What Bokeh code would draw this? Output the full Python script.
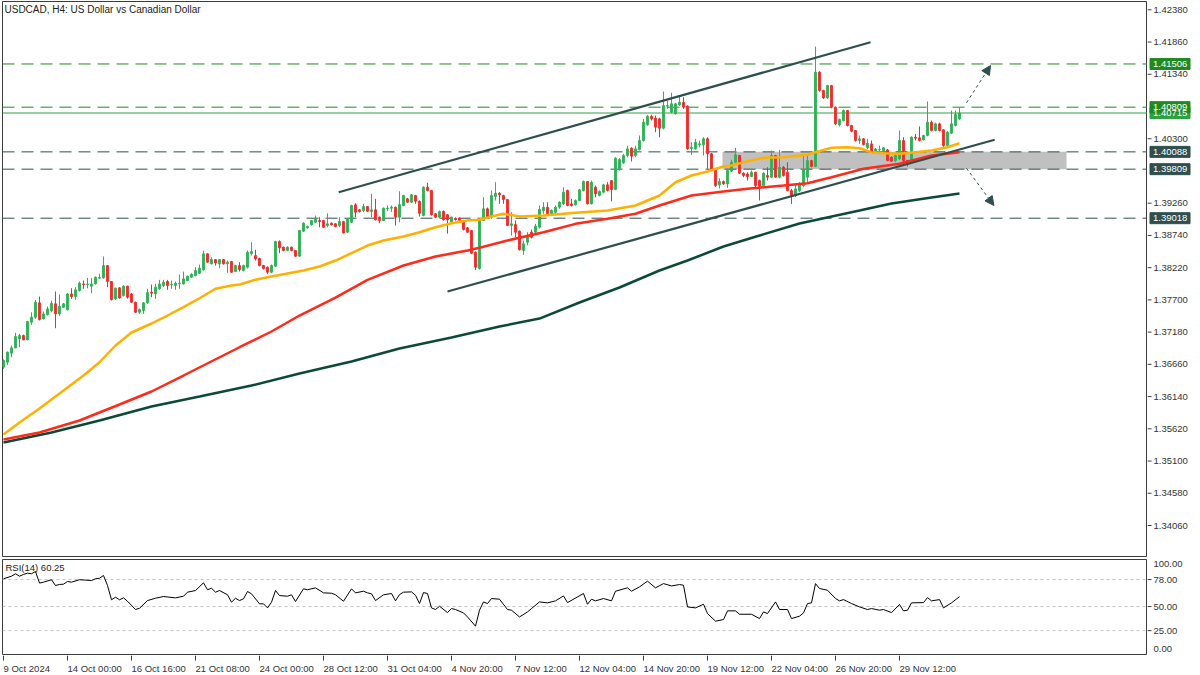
from bokeh.plotting import figure
from bokeh.layouts import column, row
from bokeh.models import (Range1d, Span, Label, Arrow, NormalHead,
                          BoxAnnotation, ColumnDataSource)
from bokeh.core.properties import value
from bokeh.embed import file_html
from bokeh.resources import INLINE

# ---------------- data (USDCAD H4) ----------------
open_ = [
 1.36614,1.36695,1.36840,1.36926,1.37071,1.37125,1.37055,1.37340,1.37420,1.37652,
 1.37394,1.37463,1.37528,1.37636,1.37474,1.37582,1.37539,1.37797,1.37754,1.37851,
 1.37958,1.37948,1.37921,1.37958,1.38050,1.38055,1.38254,1.37996,1.37716,1.37894,
 1.37770,1.37921,1.37797,1.37662,1.37501,1.37528,1.37652,1.37824,1.37797,1.37878,
 1.37932,1.37996,1.37940,1.37932,1.37958,1.37958,1.38012,1.38066,1.38093,1.38130,
 1.38184,1.38443,1.38281,1.38351,1.38281,1.38351,1.38281,1.38319,1.38157,1.38254,
 1.38174,1.38227,1.38448,1.38416,1.38367,1.38255,1.38227,1.38146,1.38243,1.38642,
 1.38550,1.38497,1.38550,1.38497,1.38405,1.38808,1.38863,1.38911,1.38953,1.38981,
 1.38981,1.38900,1.38937,1.38927,1.38900,1.38964,1.38792,1.38953,1.39234,1.39153,
 1.39142,1.39206,1.39126,1.39153,1.39034,1.38981,1.39169,1.39179,1.39195,1.39034,
 1.39223,1.39331,1.39276,1.39384,1.39292,1.39061,1.39518,1.39465,1.39089,1.39034,
 1.39131,1.39073,1.38953,1.39018,1.39018,1.38981,1.38863,1.38819,1.38469,1.38206,
 1.38981,1.39169,1.39034,1.39368,1.39421,1.39384,1.39319,1.38900,1.38916,1.38808,
 1.38497,1.38630,1.38792,1.38792,1.38872,1.39142,1.39195,1.39089,1.39114,1.39195,
 1.39250,1.39465,1.39250,1.39234,1.39303,1.39465,1.39610,1.39250,1.39518,1.39384,
 1.39437,1.39556,1.39626,1.39481,1.39815,1.39911,1.40029,1.40147,1.40029,1.40126,
 1.40271,1.40525,1.40663,1.40631,1.40621,1.40470,1.40825,1.40728,1.40702,1.40847,
 1.40889,1.40825,1.40137,1.40137,1.40202,1.40202,1.40299,1.40057,1.39815,1.39556,
 1.39610,1.39572,1.39776,1.39921,1.40029,1.39744,1.39733,1.39690,1.39760,1.39626,
 1.39545,1.39706,1.39680,1.40029,1.39680,1.39840,1.39760,1.39464,1.39384,1.39464,
 1.39545,1.39680,1.39948,1.39851,1.41374,1.41078,1.40960,1.41159,1.40809,1.40524,
 1.40594,1.40755,1.40513,1.40432,1.40271,1.40298,1.40153,1.40217,1.40082,1.40120,
 1.40082,1.40120,1.40002,1.39948,1.39975,1.40271,1.39948,1.39921,1.40325,1.40315,
 1.40282,1.40352,1.40567,1.40432,1.40540,1.40443,1.40190,1.40389,1.40513,1.40620]

high_ = [
 1.36740,1.36867,1.36964,1.37168,1.37152,1.37140,1.37360,1.37501,1.37700,1.37754,
 1.37512,1.37593,1.37689,1.37835,1.37786,1.37650,1.37810,1.37888,1.37905,1.37996,
 1.38012,1.38055,1.38050,1.38075,1.38120,1.38400,1.38260,1.38000,1.37900,1.37905,
 1.37935,1.37930,1.37810,1.37670,1.37560,1.37662,1.37878,1.37948,1.37958,1.38023,
 1.38023,1.38023,1.38012,1.37996,1.38109,1.38157,1.38090,1.38130,1.38227,1.38270,
 1.38496,1.38450,1.38389,1.38355,1.38355,1.38360,1.38335,1.38330,1.38265,1.38308,
 1.38270,1.38497,1.38630,1.38510,1.38380,1.38265,1.38240,1.38270,1.38655,1.38660,
 1.38560,1.38565,1.38560,1.38505,1.38830,1.38950,1.38900,1.38990,1.39060,1.39034,
 1.38990,1.39096,1.38950,1.38940,1.39034,1.38975,1.39020,1.39235,1.39260,1.39165,
 1.39250,1.39215,1.39411,1.39330,1.39045,1.39190,1.39223,1.39223,1.39205,1.39453,
 1.39395,1.39345,1.39405,1.39395,1.39300,1.39530,1.39589,1.39475,1.39100,1.39140,
 1.39140,1.39085,1.39045,1.39030,1.39030,1.38990,1.38875,1.38830,1.38480,1.38990,
 1.39356,1.39190,1.39465,1.39598,1.39437,1.39395,1.39330,1.39114,1.38981,1.38820,
 1.38658,1.38792,1.38835,1.38927,1.39223,1.39276,1.39276,1.39160,1.39223,1.39290,
 1.39518,1.39480,1.39331,1.39320,1.39490,1.39626,1.39620,1.39626,1.39545,1.39465,
 1.39572,1.39598,1.39630,1.40000,1.39986,1.40057,1.40190,1.40163,1.40190,1.40352,
 1.40621,1.40680,1.40686,1.40675,1.40640,1.41062,1.40917,1.41040,1.40880,1.40997,
 1.40970,1.40840,1.40244,1.40299,1.40271,1.40324,1.40324,1.40070,1.39830,1.39660,
 1.39626,1.39814,1.39960,1.40153,1.40040,1.39760,1.39760,1.39787,1.39765,1.39640,
 1.39760,1.39840,1.40109,1.40040,1.40120,1.39860,1.39921,1.39491,1.39572,1.39599,
 1.40055,1.40055,1.39960,1.41788,1.41390,1.41090,1.41170,1.41170,1.40820,1.40625,
 1.40770,1.40765,1.40525,1.40440,1.40352,1.40310,1.40298,1.40271,1.40150,1.40190,
 1.40165,1.40136,1.40015,1.40040,1.40432,1.40325,1.39960,1.40340,1.40378,1.40497,
 1.40365,1.40901,1.40594,1.40560,1.40560,1.40455,1.40420,1.40755,1.40755,1.40809]

low_ = [
 1.36587,1.36652,1.36775,1.36921,1.36937,1.37050,1.37050,1.37297,1.37394,1.37367,
 1.37383,1.37447,1.37501,1.37243,1.37437,1.37570,1.37530,1.37716,1.37700,1.37835,
 1.37878,1.37888,1.37808,1.37950,1.38039,1.38039,1.37905,1.37690,1.37700,1.37720,
 1.37755,1.37720,1.37650,1.37490,1.37474,1.37474,1.37636,1.37743,1.37716,1.37862,
 1.37905,1.37862,1.37878,1.37862,1.37878,1.37948,1.38000,1.38050,1.38077,1.38120,
 1.38173,1.38300,1.38275,1.38254,1.38211,1.38270,1.38136,1.38140,1.38150,1.38157,
 1.38160,1.38206,1.38416,1.38335,1.38240,1.38190,1.38120,1.38130,1.38230,1.38453,
 1.38485,1.38485,1.38485,1.38395,1.38395,1.38795,1.38850,1.38900,1.38937,1.38872,
 1.38860,1.38872,1.38900,1.38870,1.38872,1.38770,1.38780,1.38940,1.39034,1.39110,
 1.39115,1.39120,1.39034,1.38981,1.38937,1.38970,1.39131,1.39120,1.38900,1.38953,
 1.39210,1.39265,1.39265,1.39250,1.39045,1.39050,1.39450,1.39060,1.39020,1.39020,
 1.38980,1.38770,1.38940,1.38980,1.38970,1.38820,1.38780,1.38440,1.38180,1.38190,
 1.38970,1.39008,1.39008,1.39303,1.39250,1.39250,1.38890,1.38738,1.38711,1.38497,
 1.38427,1.38580,1.38690,1.38765,1.38850,1.39089,1.39061,1.39060,1.39089,1.39169,
 1.39234,1.39210,1.39205,1.39220,1.39290,1.39450,1.39240,1.39240,1.39356,1.39370,
 1.39420,1.39450,1.39290,1.39470,1.39787,1.39895,1.40000,1.39933,1.40003,1.40110,
 1.40255,1.40510,1.40594,1.40405,1.40324,1.40450,1.40782,1.40710,1.40690,1.40830,
 1.40782,1.40120,1.40040,1.40126,1.40163,1.40029,1.39815,1.39800,1.39518,1.39497,
 1.39556,1.39507,1.39760,1.39905,1.39730,1.39680,1.39626,1.39680,1.39518,1.39303,
 1.39530,1.39626,1.39670,1.39670,1.39660,1.39690,1.39450,1.39249,1.39357,1.39438,
 1.39518,1.39600,1.39840,1.39840,1.41060,1.40940,1.40940,1.40790,1.40520,1.40497,
 1.40580,1.40497,1.40405,1.40255,1.40217,1.40190,1.40136,1.40075,1.40070,1.40055,
 1.40070,1.39937,1.39925,1.39921,1.39960,1.39894,1.39851,1.39905,1.40271,1.40255,
 1.40270,1.40340,1.40420,1.40420,1.40420,1.40150,1.40175,1.40375,1.40500,1.40605]

close_ = [
 1.36722,1.36856,1.36926,1.37109,1.37125,1.37055,1.37351,1.37420,1.37662,1.37383,
 1.37474,1.37555,1.37646,1.37474,1.37598,1.37636,1.37797,1.37754,1.37862,1.37969,
 1.37948,1.37958,1.37958,1.38066,1.38060,1.38254,1.37996,1.37705,1.37888,1.37732,
 1.37921,1.37743,1.37662,1.37501,1.37544,1.37652,1.37818,1.37808,1.37905,1.37958,
 1.37985,1.37932,1.37948,1.37969,1.37969,1.38039,1.38082,1.38114,1.38173,1.38211,
 1.38443,1.38308,1.38351,1.38297,1.38351,1.38281,1.38308,1.38146,1.38254,1.38190,
 1.38255,1.38469,1.38480,1.38363,1.38255,1.38206,1.38146,1.38255,1.38642,1.38540,
 1.38497,1.38550,1.38497,1.38405,1.38819,1.38937,1.38884,1.38981,1.39008,1.38964,
 1.38872,1.38927,1.38911,1.38884,1.38964,1.38782,1.39008,1.39223,1.39115,1.39126,
 1.39206,1.39131,1.39153,1.38992,1.38981,1.39179,1.39179,1.39195,1.39034,1.39239,
 1.39384,1.39276,1.39395,1.39292,1.39098,1.39518,1.39465,1.39073,1.39034,1.39126,
 1.38992,1.38992,1.39034,1.38992,1.38981,1.38835,1.38792,1.38453,1.38227,1.38981,
 1.39169,1.39034,1.39384,1.39421,1.39395,1.39319,1.38900,1.38927,1.38792,1.38508,
 1.38604,1.38738,1.38711,1.38889,1.39158,1.39195,1.39089,1.39142,1.39195,1.39276,
 1.39437,1.39223,1.39223,1.39303,1.39476,1.39610,1.39250,1.39598,1.39411,1.39449,
 1.39556,1.39465,1.39481,1.39986,1.39965,1.40029,1.40137,1.40018,1.40137,1.40271,
 1.40566,1.40663,1.40621,1.40486,1.40470,1.40836,1.40836,1.40863,1.40863,1.40889,
 1.40809,1.40137,1.40163,1.40244,1.40218,1.40299,1.40057,1.39815,1.39545,1.39610,
 1.39572,1.39787,1.39921,1.40040,1.39744,1.39706,1.39690,1.39760,1.39545,1.39535,
 1.39744,1.39680,1.40029,1.39680,1.39840,1.39706,1.39464,1.39384,1.39491,1.39572,
 1.39798,1.39948,1.39851,1.41374,1.41078,1.40960,1.41159,1.40809,1.40540,1.40610,
 1.40755,1.40513,1.40422,1.40271,1.40298,1.40207,1.40228,1.40082,1.40136,1.40125,
 1.40153,1.39948,1.39937,1.40029,1.40271,1.39948,1.39894,1.40325,1.40309,1.40271,
 1.40352,1.40567,1.40432,1.40540,1.40432,1.40190,1.40405,1.40540,1.40691,1.40715]

# moving averages (sampled at bar index)
ma_fast_bar = [0,4,9,14,20,24,28,32,37,41,45,49,53,57,59,63,66,75,79,83,87,91,95,100,104,108,
               112,116,119,122,125,129,135,143,151,158,164,168,172,176,180,182,186,190,195,201,
               203,207,211,214,217,220,224,228,232,236,239]
ma_fast = [1.35528,1.35721,1.35947,1.36189,1.36480,1.36694,1.36964,1.37174,1.37319,1.37448,
           1.37582,1.37727,1.37879,1.37932,1.37948,1.38024,1.38066,1.38174,1.38238,1.38335,
           1.38453,1.38577,1.38658,1.38722,1.38792,1.38872,1.38937,1.38981,1.38992,1.39045,
           1.39089,1.39045,1.39061,1.39105,1.39142,1.39223,1.39384,1.39598,1.39707,1.39771,
           1.39852,1.39868,1.39937,1.39992,1.40002,1.40041,1.40083,1.40154,1.40163,1.40147,
           1.40083,1.40066,1.40057,1.40083,1.40110,1.40163,1.40228]
ma_mid_bar = [0,9,19,29,37,45,59,67,74,83,91,100,108,116,119,126,135,143,151,158,164,168,172,
              180,186,195,201,207,215,224,232,239]
ma_mid = [1.35447,1.35560,1.35754,1.36012,1.36222,1.36480,1.36936,1.37190,1.37448,1.37738,
          1.38024,1.38255,1.38400,1.38497,1.38540,1.38658,1.38792,1.38927,1.39008,1.39089,
          1.39223,1.39303,1.39384,1.39449,1.39492,1.39545,1.39582,1.39679,1.39815,1.39895,
          1.40029,1.40083]
ma_slow_bar = [0,12,24,37,49,62,74,87,99,112,124,134,144,154,164,171,180,189,199,214,222,232,239]
ma_slow = [1.35399,1.35560,1.35754,1.35980,1.36141,1.36318,1.36512,1.36706,1.36915,1.37093,
           1.37270,1.37399,1.37658,1.37900,1.38174,1.38335,1.38561,1.38738,1.38932,1.39142,
           1.39255,1.39352,1.39416]

# RSI(14)
rsi_bar = [0,2,3,4,5,6,7,8,9,10,12,13,14,15,16,17,19,22,23,24,25,26,27,28,29,30,31,33,34,36,
           38,40,43,45,46,48,50,51,52,53,54,56,57,58,59,60,61,62,64,65,66,67,68,69,71,72,73,
           75,76,78,80,82,83,85,87,88,90,91,92,93,95,97,98,99,100,102,103,104,105,106,107,108,
           109,111,112,113,115,116,118,119,120,121,122,124,126,127,129,131,132,134,136,138,140,
           141,145,146,147,148,150,152,153,156,157,159,161,163,165,167,169,170,171,173,175,176,
           178,180,181,183,184,187,189,190,191,193,194,196,197,199,200,201,202,203,204,206,208,
           209,210,212,214,216,217,219,220,222,224,225,226,227,230,231,232,234,235,237,239]
rsi_val = [78.8,81.5,84,81.5,83.3,84.6,84,86.4,74.3,75.3,77.8,71.8,72.9,73.2,76,75.3,77.8,77,
           78.8,79.4,82.2,71.8,57,59.7,57,59,55.5,46.9,48.2,56.2,58.6,60.4,59,60.7,64.9,66.6,
           74.6,67.4,69,64.9,66.6,62.2,54.5,58.6,56.2,58,65.6,63.2,52.8,52.8,48.6,54.5,66.6,
           61.4,60.7,62.2,55.2,68.4,67.4,69.4,64.2,63.8,62.2,55.5,68.4,64.2,65.9,64.2,63.2,
           56.2,62.2,63.5,55.9,62.4,64.9,65.2,61.7,53.1,64.5,63.5,48.6,46.9,50.3,43.7,47.9,
           46.9,43.4,39.2,29.6,46.2,54.8,53.1,58.3,57.6,46.9,46.2,39.2,44.4,47.9,54.8,53.8,
           55.9,61,54.1,63.5,52.4,57.6,55.9,58.3,55.9,65.9,69.4,65.9,70.4,76.3,69.4,73.8,71.4,
           72.8,72.1,49.6,48.6,52.4,42.7,34.8,36.5,45.5,45.5,42,42,37.5,44.4,42.7,54.8,46.9,
           46.9,37.5,40,43.4,53.1,53.8,73.8,68.7,66.9,58.3,55.9,57.2,53.1,49.6,46.9,47.9,46.2,
           46.9,43.7,52.1,45.5,46.2,53.8,54.1,59.3,55.9,57.2,48.6,53.8,60.25]
rsi_levels = [78, 50, 25]
rsi_scale_labels = [100, 78, 50, 25, 0]
rsi_last = "60.25"

# horizontal levels and tags
level_green = [1.41506, 1.40809]
level_dark = [1.40088, 1.39809, 1.39018]
bid_price = 1.40715
zone_top, zone_bottom = 1.40088, 1.39809
zone_from_bar, zone_to_bar = 179.75, 265.75

# channel trendlines: (bar, price) endpoints
channel_upper_bar = [83.8, 216.75]
channel_upper = [1.39437, 1.41857]
channel_lower_bar = [111.0, 247.8]
channel_lower = [1.37835, 1.40283]
arrow_up = (240.75, 1.40880, 246.75, 1.41481)
arrow_down = (240.75, 1.39824, 247.6, 1.39223)

price_ticks = [1.42380, 1.41860, 1.41340, 1.40300, 1.39260, 1.38740, 1.38220, 1.37700,
               1.37180, 1.36660, 1.36140, 1.35620, 1.35100, 1.34580, 1.34060]
time_tick_bars = [0, 16, 32, 48, 64, 80, 96, 112, 128, 144, 160, 176, 192, 208, 224]
time_labels = ["9 Oct 2024", "14 Oct 00:00", "16 Oct 16:00", "21 Oct 08:00", "24 Oct 00:00",
               "28 Oct 12:00", "31 Oct 04:00", "4 Nov 20:00", "7 Nov 12:00", "12 Nov 04:00",
               "14 Nov 20:00", "19 Nov 12:00", "22 Nov 04:00", "26 Nov 20:00", "29 Nov 12:00"]

# ---------------- styling ----------------
UP = "#31b158"
DOWN = "#f42a2a"
FRAME = "#3c3c3c"
DARK = "#2f4f4f"
GREEN_LVL = "#1f8a1f"
BID = "#2fa043"
FONT = "Liberation Sans"
FS = "9.5px"
TXT = "#333333"

X_START, X_END = -0.25, 286.0
PLOT_W, AX_W = 1147, 53
MAIN_H, RSI_H, XLAB_H = 557, 98, 20


def bare(fig):
    fig.grid.visible = False
    fig.background_fill_color = "white"
    fig.border_fill_color = "white"
    return fig


main = bare(figure(width=PLOT_W, height=MAIN_H, x_range=Range1d(X_START, X_END),
                   y_range=Range1d(1.33560, 1.42514), output_backend="svg",
                   toolbar_location=None, y_axis_location=None, x_axis_location=None,
                   min_border_left=2, min_border_right=0, min_border_top=1, min_border_bottom=1))
main.outline_line_color = FRAME

# zone and levels
main.add_layout(BoxAnnotation(left=zone_from_bar, right=zone_to_bar, top=zone_top,
                              bottom=zone_bottom, fill_color="#c0c0c0", fill_alpha=1.0,
                              line_alpha=0, level="underlay"))
for lv in level_green:
    main.add_layout(Span(location=lv, dimension="width", line_color=GREEN_LVL,
                         line_dash="12 7", line_width=1, level="underlay"))
for lv in level_dark:
    main.add_layout(Span(location=lv, dimension="width", line_color=DARK,
                         line_dash="12 7", line_width=1, level="underlay"))
main.add_layout(Span(location=bid_price, dimension="width", line_color=BID,
                     line_width=1, level="underlay"))

# candles
n = len(close_)
idx = list(range(n))
cols = [UP if c >= o else DOWN for o, c in zip(open_, close_)]
src = ColumnDataSource(dict(x=idx, h=high_, l=low_,
                            top=[max(o, c) for o, c in zip(open_, close_)],
                            bot=[min(o, c) for o, c in zip(open_, close_)], col=cols))
main.segment(x0="x", y0="l", x1="x", y1="h", line_color="col", line_width=1, source=src)
main.vbar(x="x", width=0.45, top="top", bottom="bot", fill_color="col", line_color="col",
          line_width=1, source=src)

# moving averages
main.line(ma_slow_bar, ma_slow, line_color="#0c4a38", line_width=2.5)
main.line(ma_mid_bar, ma_mid, line_color="#ff2a1a", line_width=2.5)
main.line(ma_fast_bar, ma_fast, line_color="#ffb000", line_width=2.5)

# channel
main.line(channel_upper_bar, channel_upper, line_color=DARK, line_width=2.2)
main.line(channel_lower_bar, channel_lower, line_color=DARK, line_width=2.2)

for (xs, ys, xe, ye) in (arrow_up, arrow_down):
    main.add_layout(Arrow(x_start=xs, y_start=ys, x_end=xe, y_end=ye, line_color=DARK,
                          line_width=1, line_dash="3 3",
                          end=NormalHead(size=9, fill_color=DARK, line_color=DARK)))

main.add_layout(Label(x=0.25, y=1.42385, text="USDCAD, H4:  US Dollar vs Canadian Dollar",
                      text_font=FONT, text_font_size="10px", text_color="#222222",
                      text_baseline="middle", text_align="left"))

# ---------------- price scale (right) ----------------
pax = bare(figure(width=AX_W, height=MAIN_H, x_range=Range1d(0, AX_W), y_range=main.y_range,
                  output_backend="svg", toolbar_location=None, y_axis_location=None,
                  x_axis_location=None, min_border_left=0, min_border_right=0,
                  min_border_top=1, min_border_bottom=1))
pax.outline_line_color = None
pax.segment(x0=[0] * len(price_ticks), y0=price_ticks, x1=[4] * len(price_ticks),
            y1=price_ticks, line_color=FRAME, line_width=1)
pax.text(x=[6] * len(price_ticks), y=price_ticks, text=[f"{t:.5f}" for t in price_ticks],
         text_font=value(FONT), text_font_size=FS, text_color=TXT,
         text_baseline="middle", text_align="left")

tag_prices = [bid_price, level_green[0], level_green[1]] + level_dark
tag_colors = [BID, GREEN_LVL, GREEN_LVL, DARK, DARK, DARK]
pax.rect(x=[22.5] * len(tag_prices), y=tag_prices, width=40, height=11,
         width_units="screen", height_units="screen", fill_color=tag_colors,
         line_color=tag_colors)
pax.text(x=[5.5] * len(tag_prices), y=tag_prices, text=[f"{t:.5f}" for t in tag_prices],
         text_font=value(FONT), text_font_size=FS, text_color="white",
         text_baseline="middle", text_align="left")

# ---------------- RSI panel ----------------
rsi = bare(figure(width=PLOT_W, height=RSI_H, x_range=main.x_range, y_range=Range1d(-0.8, 98.8),
                  output_backend="svg", toolbar_location=None, y_axis_location=None,
                  x_axis_location=None, min_border_left=2, min_border_right=0,
                  min_border_top=2, min_border_bottom=0))
rsi.outline_line_color = FRAME
for lv in rsi_levels:
    rsi.add_layout(Span(location=lv, dimension="width", line_color="#c4c4c4",
                        line_dash="3 3", line_width=1, level="underlay"))
rsi.line(rsi_bar, rsi_val, line_color="black", line_width=1)
rsi.add_layout(Label(x=0.5, y=90.6, text=f"RSI(14) {rsi_last}", text_font=FONT,
                     text_font_size=FS, text_color="#222222", text_baseline="middle",
                     text_align="left"))

rax = bare(figure(width=AX_W, height=RSI_H, x_range=Range1d(0, AX_W), y_range=rsi.y_range,
                  output_backend="svg", toolbar_location=None, y_axis_location=None,
                  x_axis_location=None, min_border_left=0, min_border_right=0,
                  min_border_top=2, min_border_bottom=0))
rax.outline_line_color = None
rax.segment(x0=[0] * len(rsi_levels), y0=rsi_levels, x1=[4] * len(rsi_levels),
            y1=rsi_levels, line_color=FRAME, line_width=1)
rsi_label_pos = [94.6, 78, 50, 25, 6.4]
rax.text(x=[6] * len(rsi_scale_labels), y=rsi_label_pos,
         text=[f"{v:.2f}" for v in rsi_scale_labels], text_font=value(FONT),
         text_font_size=FS, text_color=TXT, text_baseline="middle", text_align="left")

# ---------------- time scale ----------------
xlab = bare(figure(width=1200, height=XLAB_H, x_range=main.x_range, y_range=Range1d(0, XLAB_H),
                   output_backend="svg", toolbar_location=None, y_axis_location=None,
                   x_axis_location=None, min_border_left=2, min_border_right=AX_W,
                   min_border_top=0, min_border_bottom=0))
xlab.outline_line_color = None
nt = len(time_tick_bars)
xlab.segment(x0=time_tick_bars, y0=[XLAB_H] * nt, x1=time_tick_bars, y1=[XLAB_H - 5] * nt,
             line_color=FRAME, line_width=1)
xlab.text(x=time_tick_bars, y=[7.5] * nt, text=time_labels,
          text_font=value(FONT), text_font_size=FS, text_color=TXT,
          text_baseline="middle", text_align="left")

layout = column(row(main, pax, spacing=0), row(rsi, rax, spacing=0), xlab, spacing=0)
open("out.html", "w").write(file_html(layout, INLINE))
